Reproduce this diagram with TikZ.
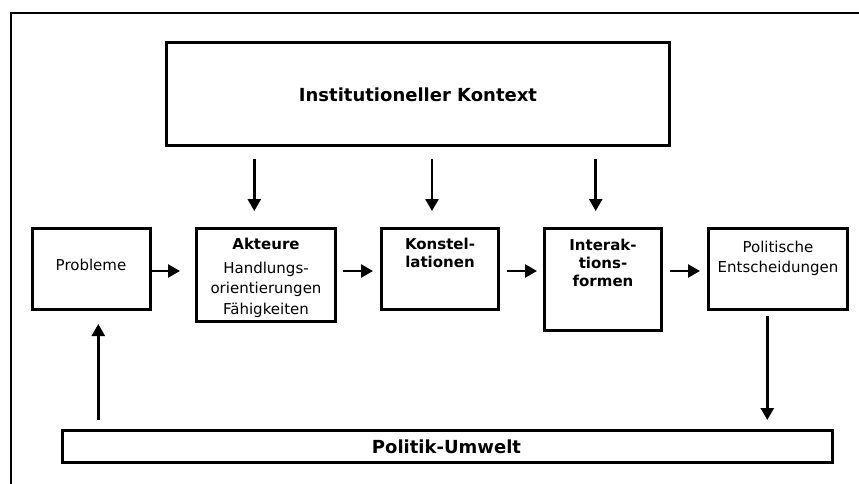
\documentclass[tikz,border=0pt]{standalone}
\usepackage{fontspec}
\setmainfont{DejaVu Sans}
\usetikzlibrary{arrows.meta,calc}

\tikzset{
  box/.style={draw, line width=2.6pt, rectangle, inner sep=0pt, fill=white},
  lbl/.style={inner sep=0pt, align=center, anchor=base},
  regtext/.style={font=\fontsize{15}{20.5}\selectfont},
  boldtext/.style={font=\fontsize{15}{18}\selectfont\bfseries},
  bigtext/.style={font=\fontsize{18}{22}\selectfont\bfseries},
  arr/.style={line width=2.6pt, -{Triangle[length=12pt,width=13pt]}},
}

\begin{document}
\begin{tikzpicture}[x=1pt,y=-1pt]
\useasboundingbox (0,0) rectangle (859,484);

% outer frame (runs off the page at right and bottom)
\draw[line width=2pt, line join=miter] (10.8,484) -- (10.8,13) -- (859,13);

% boxes
\node[box, minimum width=503.4pt, minimum height=103.4pt] (inst) at (418,94) {};
\node[box, minimum width=118.4pt, minimum height=81.4pt]  (prob) at (91.5,269) {};
\node[box, minimum width=139.4pt, minimum height=93.4pt]  (akt)  at (266,275) {};
\node[box, minimum width=117.4pt, minimum height=81.4pt]  (kon)  at (440,269) {};
\node[box, minimum width=117.4pt, minimum height=102.4pt] (int)  at (603,279.5) {};
\node[box, minimum width=139.4pt, minimum height=81.4pt]  (pol)  at (778,269) {};
\node[box, minimum width=770.4pt, minimum height=32.4pt]  (umw)  at (447.5,446.5) {};

% labels (the base anchor of a multi-line label sits on its last line)
\node[lbl, bigtext] (inst-t) at (418,101.7) {Institutioneller Kontext};
\node[lbl, regtext] (prob-t) at (91,270) {Probleme};
\node[lbl, regtext] (akt-t) at (266,314) {\textbf{Akteure}\\[3.5pt]Handlungs-\\orientierungen\\Fähigkeiten};
\node[lbl, boldtext] (kon-t) at (440,267) {Konstel-\\lationen};
\node[lbl, boldtext] (int-t) at (603,286) {Interak-\\tions-\\formen};
\node[lbl, regtext] (pol-t) at (778,272.5) {Politische\\Entscheidungen};
\node[lbl, bigtext] (umw-t) at (446.5,453.3) {Politik-Umwelt};

% positions of the connectors
\coordinate (a1) at (254.3,0);
\coordinate (a2) at (432,0);
\coordinate (a3) at (595.7,0);
\coordinate (hy) at (0,271);
\coordinate (u1) at (98.3,0);
\coordinate (d1) at (767.3,0);

% influence of the institutional context
\draw[arr, shorten <=12pt, shorten >=16pt] (inst.south -| a1) -- (akt.north -| a1);
\draw[arr, shorten <=12pt, shorten >=16pt] (inst.south -| a2) -- (kon.north -| a2);
\draw[arr, shorten <=12pt, shorten >=16pt] (inst.south -| a3) -- (int.north -| a3);

% main chain
\draw[arr, shorten >=15pt] (prob.east |- hy) -- (akt.west |- hy);
\draw[arr, shorten <=6pt, shorten >=7pt] (akt.east |- hy) -- (kon.west |- hy);
\draw[arr, shorten <=7pt, shorten >=6pt] (kon.east |- hy) -- (int.west |- hy);
\draw[arr, shorten <=7pt, shorten >=7pt] (int.east |- hy) -- (pol.west |- hy);

% feedback through the policy environment
\draw[arr, shorten <=5pt, shorten >=9pt] (pol.south -| d1) -- (umw.north -| d1);
\draw[arr, shorten <=9pt, shorten >=13pt] (umw.north -| u1) -- (prob.south -| u1);
\end{tikzpicture}
\end{document}
